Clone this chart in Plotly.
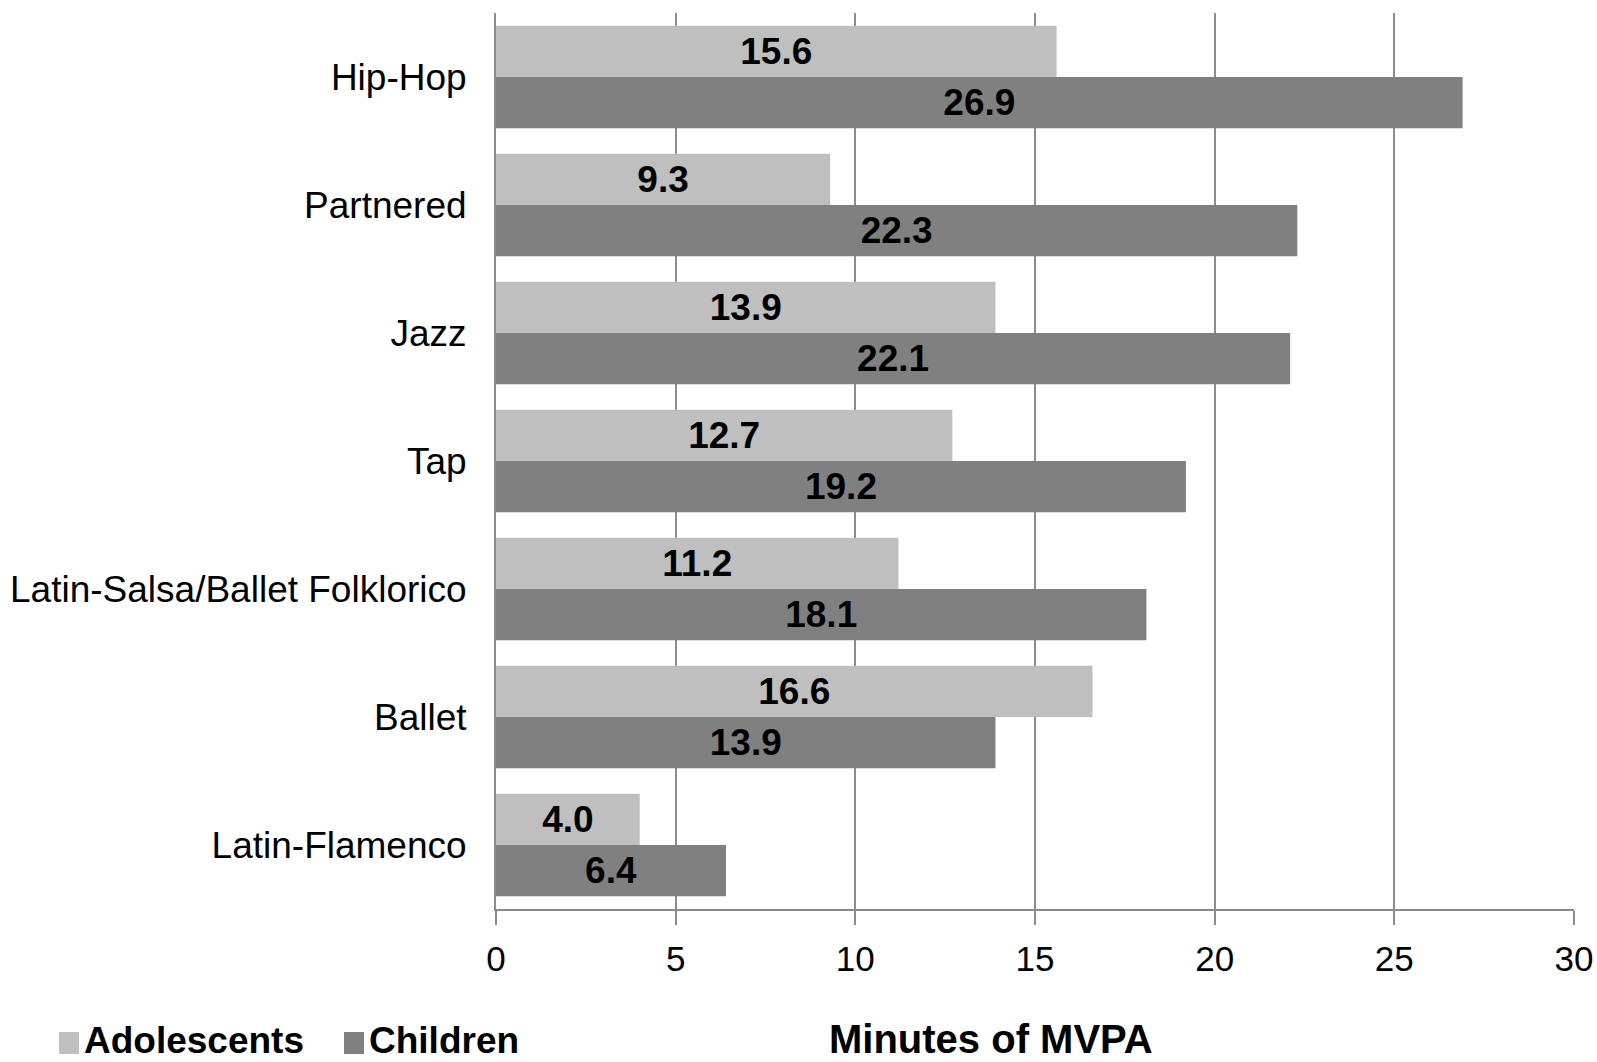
import plotly.graph_objects as go

# Minutes of MVPA by dance style
categories = ["Hip-Hop", "Partnered", "Jazz", "Tap",
              "Latin-Salsa/Ballet Folklorico", "Ballet", "Latin-Flamenco"]
adolescents = [15.6, 9.3, 13.9, 12.7, 11.2, 16.6, 4.0]
children = [26.9, 22.3, 22.1, 19.2, 18.1, 13.9, 6.4]
x_ticks = [0, 5, 10, 15, 20, 25, 30]

LIGHT = "#BFBFBF"
DARK = "#808080"
GRID = "#8C8C8C"
FONT = "Liberation Sans"

W, H = 1597, 1062
L, R, T, B = 496, 23, 13, 153
PW, PH = W - L - R, H - T - B


def px_x(x):
    return (x - L) / PW


def px_y(y):
    return (H - B - y) / PH


fig = go.Figure()
for name, vals, col in [("Adolescents", adolescents, LIGHT),
                        ("Children", children, DARK)]:
    fig.add_trace(go.Bar(
        name=name, y=categories, x=vals, orientation="h",
        marker=dict(color=col, line=dict(width=0)),
        text=vals, texttemplate="%{x:.1f}",
        textposition="inside", insidetextanchor="middle",
        constraintext="none",
        textfont=dict(family=FONT, size=37, color="black", weight="bold"),
        showlegend=False,
    ))

# legend drawn below the chart
shapes = []
annotations = []
for label, col, sq_x, tx in [("Adolescents", LIGHT, 59, 83),
                              ("Children", DARK, 344, 368)]:
    shapes.append(dict(type="rect", xref="paper", yref="paper",
                       x0=px_x(sq_x), x1=px_x(sq_x + 20),
                       y0=px_y(1032), y1=px_y(1054),
                       fillcolor=col, line=dict(width=0)))
    annotations.append(dict(text=label, xref="paper", yref="paper",
                            x=px_x(tx), y=px_y(1062), xanchor="left",
                            yanchor="bottom", showarrow=False, borderpad=0,
                            font=dict(family=FONT, size=37, color="black",
                                      weight="bold")))

annotations.append(dict(text="Minutes of MVPA", xref="paper", yref="paper",
                        x=px_x(991), y=px_y(1062), xanchor="center",
                        yanchor="bottom", showarrow=False, borderpad=0,
                        font=dict(family=FONT, size=40, color="black",
                                  weight="bold")))

fig.update_layout(
    width=W, height=H,
    margin=dict(l=L, r=R, t=T, b=B, pad=0),
    paper_bgcolor="white", plot_bgcolor="white",
    barmode="group", bargap=0.2, bargroupgap=0,
    shapes=shapes, annotations=annotations,
    xaxis=dict(range=[0, 30], tickvals=x_ticks, ticktext=[str(v) for v in x_ticks],
               showgrid=True, gridcolor=GRID, gridwidth=1.5,
               showline=True, linecolor=GRID, linewidth=1.5,
               ticks="outside", ticklen=14, tickcolor=GRID, tickwidth=1.5,
               ticklabelstandoff=4, automargin=False,
               tickfont=dict(family=FONT, size=35, color="black"),
               zeroline=False, fixedrange=True),
    yaxis=dict(autorange="reversed", showgrid=False,
               showline=True, linecolor=GRID, linewidth=2,
               ticks="", ticklabelstandoff=20, automargin=False,
               tickfont=dict(family=FONT, size=37, color="black"),
               fixedrange=True),
)

fig.write_html("out.html")
